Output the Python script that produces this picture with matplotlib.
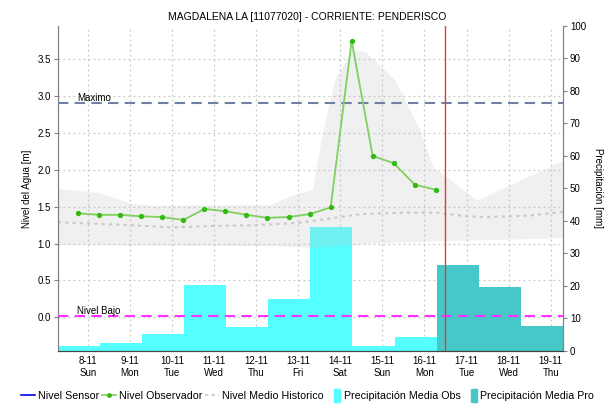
import matplotlib
matplotlib.use('Agg')
import matplotlib.pyplot as plt
from matplotlib.lines import Line2D
import matplotlib.patches as mpatches
from matplotlib.legend_handler import HandlerPatch
from matplotlib.transforms import blended_transform_factory

plt.rcParams['font.family'] = ['Liberation Sans', 'DejaVu Sans']
plt.rcParams['font.size'] = 7

TITLE = 'MAGDALENA LA [11077020] - CORRIENTE: PENDERISCO'

# x axis: days of November (fractional); bars are 07:00 -> 07:00 days
day_ticks = [8, 9, 10, 11, 12, 13, 14, 15, 16, 17, 18, 19]
day_names = ['Sun', 'Mon', 'Tue', 'Wed', 'Thu', 'Fri', 'Sat', 'Sun', 'Mon', 'Tue', 'Wed', 'Thu']
x_start = 7 + 7 / 24
x_end = 19 + 7 / 24
now_x = 16.5

# observer readings (twice a day)
obs_x = [7.77, 8.27, 8.77, 9.27, 9.77, 10.27, 10.77, 11.27, 11.77,
         12.27, 12.77, 13.27, 13.77, 14.27, 14.77, 15.27, 15.77, 16.27]
obs_level = [1.41, 1.39, 1.39, 1.37, 1.36, 1.32, 1.47, 1.44, 1.39,
             1.35, 1.36, 1.40, 1.49, 3.75, 2.19, 2.09, 1.80, 1.73]

# historic band (min / max) and historic mean
band_x = [7.29, 8.29, 9.0, 9.5, 12.33, 12.97, 13.33, 13.59, 13.87, 14.28,
          14.6, 15.3, 15.89, 16.2, 17.25, 19.29]
band_top = [1.75, 1.69, 1.55, 1.52, 1.53, 1.68, 1.73, 2.54, 3.22, 3.63,
            3.60, 3.22, 2.54, 2.04, 1.59, 2.13]
band_bottom = [0.99, 0.99, 0.98, 0.98, 0.97, 0.96, 0.95, 0.96, 0.97, 0.98,
               1.0, 1.02, 1.03, 1.04, 1.05, 1.08]
mean_x = [7.29, 9.0, 10.0, 11.0, 12.0, 13.0, 13.5, 14.0, 14.5, 15.5,
          16.3, 17.0, 17.5, 18.5, 19.29]
mean_level = [1.29, 1.25, 1.22, 1.24, 1.25, 1.28, 1.32, 1.36, 1.40, 1.42,
              1.42, 1.37, 1.36, 1.38, 1.43]

level_max = 2.91
level_low = 0.02

# daily precipitation [mm]
obs_rain_start = [7.29, 8.29, 9.29, 10.29, 11.29, 12.29, 13.29, 14.29, 15.29]
obs_rain = [1.4, 2.3, 5.2, 20.2, 7.3, 15.9, 38.1, 1.4, 4.2]
fc_rain_start = [16.29, 17.29, 18.29]
fc_rain = [26.5, 19.6, 7.6]

level_ticks = [0.0, 0.5, 1.0, 1.5, 2.0, 2.5, 3.0, 3.5]


# legend patches drawn as narrow upright blocks at the right of the handle box
def _narrow_patch(legend, orig_handle, xdescent, ydescent, width, height, fontsize):
	return mpatches.Rectangle((-xdescent + width - 4.5, -ydescent - 2), 4.5, height + 4)


fig = plt.figure(figsize=(6.15, 4.12), dpi=100)
ax = fig.add_axes([0.0943, 0.1488, 0.8211, 0.7881])
ax2 = ax.twinx()

# bars (and grid) live on the lower axes, levels on the upper one
ax.set_zorder(2)
ax.patch.set_visible(False)
ax2.set_zorder(1)
ax2.patch.set_visible(True)
ax2.patch.set_facecolor('white')

ax.set_xlim(x_start, x_end)
ax.set_ylim(-0.453, 3.952)
ax2.set_ylim(0, 100)

grid_kw = dict(color='#c8c8c8', linestyle=(0, (1.5, 2.5)), linewidth=0.9, zorder=0.5)
for d in day_ticks:
	ax2.axvline(d, **grid_kw)
htrans = blended_transform_factory(ax2.transAxes, ax.transData)
for v in level_ticks:
	ax2.plot([0, 1], [v, v], transform=htrans, **grid_kw)

ax2.bar(obs_rain_start, obs_rain, width=1.0, align='edge', color='#55ffff', zorder=1)
ax2.bar(fc_rain_start, fc_rain, width=1.0, align='edge', color='#46c8c8', zorder=1)

# historic band + mean
ax.fill_between(band_x, band_bottom, band_top, color='#c4c4c4', alpha=0.25, linewidth=0, zorder=1)
ax.plot(mean_x, mean_level, color='#c8c8c8', linestyle=(0, (1.5, 2)), linewidth=1.5, zorder=2)

# reference levels
ax.axhline(level_max, color='#7080a0', linestyle=(0, (5, 3)), linewidth=1.5, zorder=3)
ax.text(7.75, level_max, 'Maximo', ha='left', va='bottom', fontsize=7, zorder=4)
ax.axhline(level_low, color='#ff33ff', linestyle=(0, (5, 3)), linewidth=1.5, zorder=3)
ax.text(7.75, level_low, 'Nivel Bajo', ha='left', va='bottom', fontsize=7, zorder=4)

# observed level
ax.plot(obs_x, obs_level, color='#80d060', linewidth=1.3, marker='o', markersize=2.8,
	markerfacecolor='#33bb11', markeredgecolor='#33bb11', zorder=5)

# current time
ax.axvline(now_x, color='#e03c3c', linewidth=1.0, zorder=6)

# axes formatting
ax.set_xticks(day_ticks)
ax.set_xticklabels([f'{d}-11\n{n}' for d, n in zip(day_ticks, day_names)], fontsize=7)
ax.tick_params(axis='x', length=0, pad=4)
ax.set_yticks(level_ticks)
ax.set_yticklabels([f'{v:.1f}' for v in level_ticks], fontsize=7)
ax.tick_params(axis='y', length=3, color='#808080', pad=2)
ax2.set_yticks(range(0, 101, 10))
ax2.tick_params(axis='y', length=3, color='#808080', pad=2, labelsize=7)
ax.set_ylabel('Nivel del Agua [m]', fontsize=7, labelpad=4)
ax2.set_ylabel('Precipitación [mm]', fontsize=7, rotation=-90, labelpad=12)

for a in (ax, ax2):
	for side in ('left', 'right'):
		a.spines[side].set_color('#808080')
	a.spines['top'].set_visible(False)
	a.spines['bottom'].set_color('#444444')
	a.spines['bottom'].set_linestyle((0, (1, 1)))

fig.suptitle(TITLE, fontsize=7.5, y=0.972)

handles = [
	Line2D([], [], color='#0000ee', linewidth=1.2),
	Line2D([], [], color='#80d060', linewidth=1.2, marker='o', markersize=2.5,
		markerfacecolor='#33bb11', markeredgecolor='#33bb11'),
	Line2D([], [], color='#c8c8c8', linestyle=(0, (2, 2)), linewidth=1.2),
	mpatches.Patch(color='#55ffff'),
	mpatches.Patch(color='#46c8c8'),
]
labels = ['Nivel Sensor', 'Nivel Observador', 'Nivel Medio Historico',
	'Precipitación Media Obs', 'Precipitación Media Pro']
fig.legend(handles, labels, loc='center', bbox_to_anchor=(0.5, 0.039), ncol=5,
	frameon=False, fontsize=7.7, handlelength=1.3, handletextpad=0.3, columnspacing=0.25,
	handler_map={mpatches.Patch: HandlerPatch(patch_func=_narrow_patch)})

fig.savefig('out.png', dpi=100)
